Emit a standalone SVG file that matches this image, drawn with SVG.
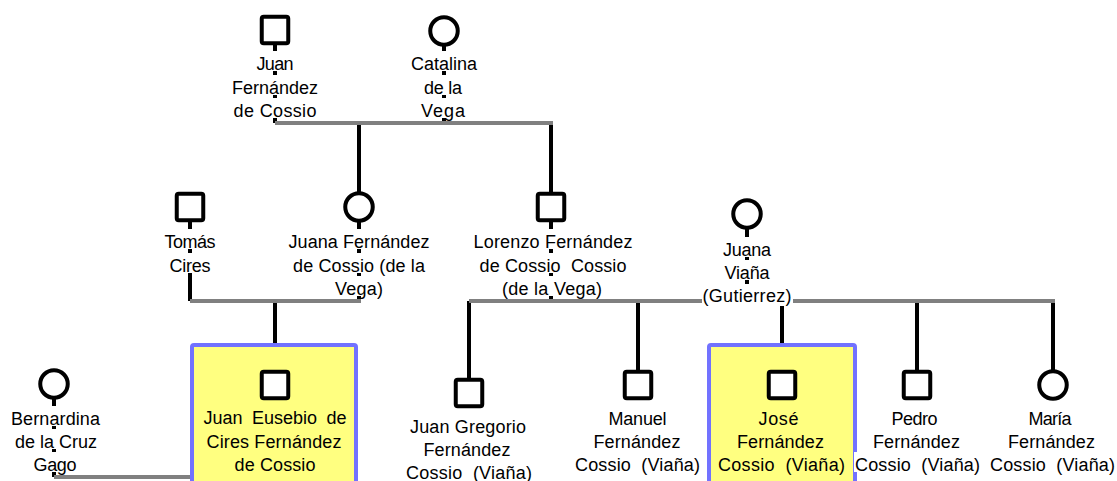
<svg xmlns="http://www.w3.org/2000/svg" width="1117" height="481" viewBox="0 0 1117 481">
  <style>
    .bg { fill: #ffffff; }
    .t { font-family: "Liberation Sans", Arial, sans-serif; font-size: 18px; fill: #000000; text-anchor: middle; }
    .sym { fill: #ffffff; stroke: #000000; stroke-width: 4; }
    .line { stroke: #000000; stroke-width: 4; fill: none; }
    .marriage { stroke: #808080; stroke-width: 4; fill: none; }
    .pad { fill: #ffffff; }
    .focus { fill: #ffff80; stroke: #7272ff; stroke-width: 4; }
  </style>
  <defs>
    <rect id="male" class="sym" x="-13.25" y="-13.25" width="26.5" height="26.5" rx="2"/>
    <circle id="female" class="sym" cx="0" cy="0" r="13.75"/>
  </defs>

  <rect class="bg" x="0" y="0" width="1117" height="481"/>

  <!-- descent and partner lines -->
  <g id="connectors">
    <!-- parents down to partnership bars -->
    <path class="line" d="M275 30V123 M444 31V123"/>
    <path class="line" d="M190 207V301 M359 207V301"/>
    <path class="line" d="M551 207V301 M747 214V301"/>
    <path class="line" d="M54 384V477"/>
    <!-- children up to partnership bars -->
    <path class="line" d="M359 123V207 M551 123V207"/>
    <path class="line" d="M275 301V346"/>
    <path class="line" d="M469 301V393 M638 301V385 M782 301V346 M917 301V385 M1053 301V385"/>
    <!-- partnership bars -->
    <path class="marriage" d="M275 123H553"/>
    <path class="marriage" d="M190 301H361"/>
    <path class="marriage" d="M469 301H1055"/>
    <path class="marriage" d="M54 477H192"/>
  </g>

  <!-- highlighted persons' panels -->
  <rect class="focus" x="192" y="345" width="164" height="160" rx="2"/>
  <rect class="focus" x="709" y="345" width="146" height="160" rx="2"/>

  <g id="juan-fernandez-de-cossio">
    <use href="#male" x="275" y="30"/>
    <rect class="pad" x="256" y="51" width="39" height="20"/>
    <rect class="pad" x="231" y="75" width="88" height="20"/>
    <rect class="pad" x="233" y="98" width="85" height="20"/>
    <text class="t" x="275" y="70" textLength="37">Juan</text>
    <text class="t" x="275" y="94" textLength="86">Fernández</text>
    <text class="t" x="275" y="117" textLength="83">de Cossio</text>
  </g>

  <g id="catalina-de-la-vega">
    <use href="#female" x="444" y="31"/>
    <rect class="pad" x="410" y="51" width="68" height="20"/>
    <rect class="pad" x="423" y="75" width="40" height="20"/>
    <rect class="pad" x="420" y="98" width="46" height="20"/>
    <text class="t" x="444" y="70" textLength="66">Catalina</text>
    <text class="t" x="443" y="94" textLength="38">de la</text>
    <text class="t" x="443" y="117" textLength="44">Vega</text>
  </g>

  <g id="tomas-cires">
    <use href="#male" x="190" y="207"/>
    <rect class="pad" x="163" y="229" width="54" height="20"/>
    <rect class="pad" x="169" y="253" width="43" height="20"/>
    <text class="t" x="190" y="248" textLength="51">Tomás</text>
    <text class="t" x="190" y="272" textLength="41">Cires</text>
  </g>

  <g id="juana-fernandez-de-cossio">
    <use href="#female" x="359" y="207"/>
    <rect class="pad" x="287" y="229" width="143" height="20"/>
    <rect class="pad" x="292" y="253" width="134" height="20"/>
    <rect class="pad" x="334" y="276" width="50" height="20"/>
    <text class="t" x="359" y="248" textLength="141">Juana Fernández</text>
    <text class="t" x="359" y="272" textLength="132">de Cossio (de la</text>
    <text class="t" x="359" y="295" textLength="48">Vega)</text>
  </g>

  <g id="lorenzo-fernandez-de-cossio">
    <use href="#male" x="551" y="207"/>
    <rect class="pad" x="473" y="229" width="161" height="20"/>
    <rect class="pad" x="479" y="253" width="149" height="20"/>
    <rect class="pad" x="501" y="276" width="102" height="20"/>
    <text class="t" x="553" y="248" textLength="159">Lorenzo Fernández</text>
    <text class="t" x="553" y="272" textLength="147">de Cossio&#160; Cossio</text>
    <text class="t" x="552" y="295" textLength="100">(de la Vega)</text>
  </g>

  <g id="juana-viana">
    <use href="#female" x="747" y="214"/>
    <rect class="pad" x="722" y="237" width="50" height="20"/>
    <rect class="pad" x="724" y="260" width="47" height="20"/>
    <rect class="pad" x="702" y="284" width="91" height="22"/>
    <text class="t" x="747" y="256" textLength="48">Juana</text>
    <text class="t" x="747" y="279" textLength="45">Viaña</text>
    <text class="t" x="747" y="302" textLength="89">(Gutierrez)</text>
  </g>

  <g id="bernardina-de-la-cruz-gago">
    <use href="#female" x="54" y="384"/>
    <rect class="pad" x="10" y="406" width="91" height="20"/>
    <rect class="pad" x="14" y="429" width="84" height="20"/>
    <rect class="pad" x="33" y="452" width="45" height="20"/>
    <text class="t" x="55.5" y="425" textLength="89">Bernardina</text>
    <text class="t" x="56" y="448" textLength="82">de la Cruz</text>
    <text class="t" x="55" y="471" textLength="43">Gago</text>
  </g>

  <g id="juan-eusebio-de-cires">
    <use href="#male" x="275" y="385"/>
    <text class="t" x="275" y="424" word-spacing="4.5">Juan Eusebio de</text>
    <text class="t" x="274" y="448" textLength="135">Cires Fernández</text>
    <text class="t" x="275" y="471" textLength="81">de Cossio</text>
  </g>

  <g id="juan-gregorio">
    <use href="#male" x="469" y="393"/>
    <rect class="pad" x="409" y="414" width="118" height="20"/>
    <rect class="pad" x="423" y="437" width="89" height="20"/>
    <rect class="pad" x="405" y="460" width="128" height="20"/>
    <text class="t" x="468" y="433" textLength="116">Juan Gregorio</text>
    <text class="t" x="467" y="456" textLength="87">Fernández</text>
    <text class="t" x="469" y="479" textLength="126">Cossio&#160; (Viaña)</text>
  </g>

  <g id="manuel">
    <use href="#male" x="638" y="385"/>
    <rect class="pad" x="607" y="406" width="61" height="20"/>
    <rect class="pad" x="592" y="429" width="90" height="20"/>
    <rect class="pad" x="574" y="452" width="127" height="20"/>
    <text class="t" x="637.5" y="425" textLength="58">Manuel</text>
    <text class="t" x="637" y="448" textLength="87">Fernández</text>
    <text class="t" x="637.5" y="471" textLength="125">Cossio&#160; (Viaña)</text>
  </g>

  <g id="jose">
    <use href="#male" x="782" y="385"/>
    <text class="t" x="778.5" y="425" textLength="40">José</text>
    <text class="t" x="780.5" y="448" textLength="87">Fernández</text>
    <text class="t" x="781.5" y="471" textLength="127">Cossio&#160; (Viaña)</text>
  </g>

  <g id="pedro">
    <use href="#male" x="917" y="385"/>
    <rect class="pad" x="890" y="406" width="49" height="20"/>
    <rect class="pad" x="872" y="429" width="89" height="20"/>
    <rect class="pad" x="854" y="452" width="127" height="20"/>
    <text class="t" x="914.5" y="425" textLength="46">Pedro</text>
    <text class="t" x="916.5" y="448" textLength="87">Fernández</text>
    <text class="t" x="917.5" y="471" textLength="125">Cossio&#160; (Viaña)</text>
  </g>

  <g id="maria">
    <use href="#female" x="1053" y="385"/>
    <rect class="pad" x="1027" y="406" width="46" height="20"/>
    <rect class="pad" x="1007" y="429" width="90" height="20"/>
    <rect class="pad" x="989" y="452" width="127" height="20"/>
    <text class="t" x="1050" y="425" textLength="43">María</text>
    <text class="t" x="1051.5" y="448" textLength="87">Fernández</text>
    <text class="t" x="1052.5" y="471" textLength="125">Cossio&#160; (Viaña)</text>
  </g>
</svg>
